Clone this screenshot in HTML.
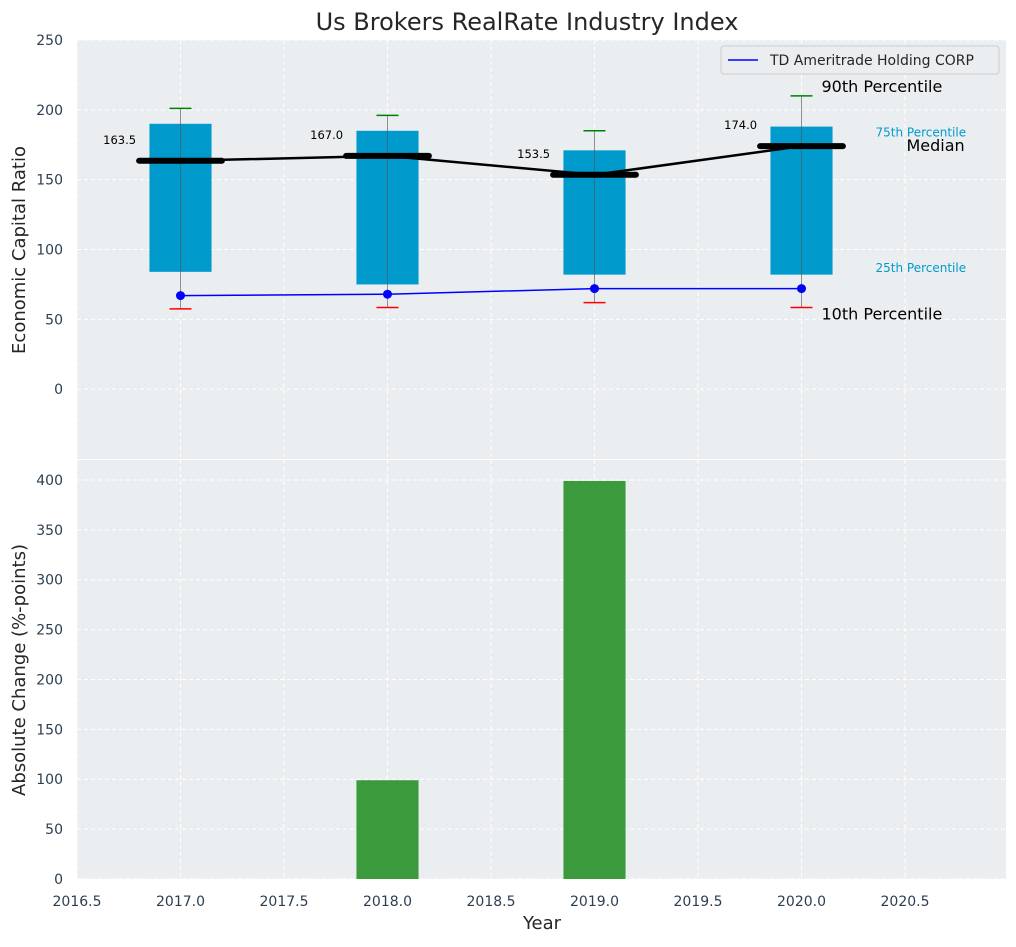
<!DOCTYPE html>
<html><head><meta charset="utf-8"><style>
body{margin:0;background:#fff;font-family:"Liberation Sans","DejaVu Sans",sans-serif;}
svg text{font-family:"DejaVu Sans","Liberation Sans",sans-serif;}
</style></head><body>
<svg id="chart" width="1016" height="942" xmlns="http://www.w3.org/2000/svg">
<text x="527" y="30" font-size="24" text-anchor="middle" fill="#262626">Us Brokers RealRate Industry Index</text>
<g id="topg"></g><g id="botg"></g>
</svg>
<script>
const years=[2017,2018,2019,2020];
const p10=[57.5,58.5,62,58.5];
const p25=[84,75,82,82];
const medians=[163.5,167,153.5,174];
const p75=[190,185,171,188];
const p90=[201,196,185,210];
const company=[67,68,72,72];
const changeYears=[2018,2019];
const changes=[99,399];
const xTicks=[2016.5,2017.0,2017.5,2018.0,2018.5,2019.0,2019.5,2020.0,2020.5];
const yTopTicks=[0,50,100,150,200,250];
const yBotTicks=[0,50,100,150,200,250,300,350,400];

const NS="http://www.w3.org/2000/svg";
const L=77,R=1006;
const x=v=>L+(v-2016.5)*207;
const T0=40,T1=459,yT=v=>T1-(v+50)*(T1-T0)/300;
const B0=460,B1=879,yB=v=>B1-v*(B1-B0)/420;
function mk(p,tag,a,txt){const e=document.createElementNS(NS,tag);for(const k in a)e.setAttribute(k,a[k]);if(txt!==undefined)e.textContent=txt;p.appendChild(e);return e;}
const topG=document.getElementById('topg'),botG=document.getElementById('botg');
let e;
e=mk(topG,'rect',{x:L,y:T0,width:R-L,height:T1-T0,fill:'#eaeef0'});


e=mk(botG,'rect',{x:L,y:B0,width:R-L,height:B1-B0,fill:'#eaeef0'});


xTicks.forEach(t=>{
 mk(topG,'line',{x1:x(t),x2:x(t),y1:T0,y2:T1,stroke:'#fff','stroke-dasharray':'4,3'});
 mk(botG,'line',{x1:x(t),x2:x(t),y1:B0,y2:B1,stroke:'#fff','stroke-dasharray':'4,3'});
 e=mk(botG,'text',{x:x(t),y:906,'font-size':14,'text-anchor':'middle',fill:'#2d3e50'},t.toFixed(1));
 
 
});
yTopTicks.forEach(t=>{
 mk(topG,'line',{x1:L,x2:R,y1:yT(t),y2:yT(t),stroke:'#fff','stroke-dasharray':'4,3'});
 e=mk(topG,'text',{x:63,y:yT(t)+5,'font-size':14,'text-anchor':'end',fill:'#2d3e50'},t);
 
 
});
yBotTicks.forEach(t=>{
 mk(botG,'line',{x1:L,x2:R,y1:yB(t),y2:yB(t),stroke:'#fff','stroke-dasharray':'4,3'});
 e=mk(botG,'text',{x:63,y:yB(t)+5,'font-size':14,'text-anchor':'end',fill:'#2d3e50'},t);
 
 
});
const bw=0.3;
years.forEach((yr,i)=>{
 e=mk(topG,'rect',{x:x(yr-bw/2),y:yT(p75[i]),width:x(yr+bw/2)-x(yr-bw/2),height:yT(p25[i])-yT(p75[i]),fill:'#009acd'});
 
 
 mk(topG,'line',{x1:x(yr),x2:x(yr),y1:yT(p90[i]),y2:yT(p10[i]),stroke:'#555','stroke-width':0.8,opacity:0.8});
 e=mk(topG,'line',{x1:x(yr)-11,x2:x(yr)+11,y1:yT(p90[i]),y2:yT(p90[i]),stroke:'green','stroke-width':1.5});
 
 
 e=mk(topG,'line',{x1:x(yr)-11,x2:x(yr)+11,y1:yT(p10[i]),y2:yT(p10[i]),stroke:'red','stroke-width':1.5});
 
 
 e=mk(topG,'line',{x1:x(yr-0.2),x2:x(yr+0.2),y1:yT(medians[i]),y2:yT(medians[i]),stroke:'#000','stroke-width':6,'stroke-linecap':'round'});
 
 
 e=mk(topG,'text',{x:x(yr-0.2)-3,y:yT(medians[i])-17,'font-size':11.5,'text-anchor':'end',fill:'#000'},medians[i].toFixed(1));
 
 
});
e=mk(topG,'polyline',{points:years.map((yr,i)=>x(yr)+','+yT(medians[i])).join(' '),fill:'none',stroke:'#000','stroke-width':2.5});


e=mk(topG,'polyline',{points:years.map((yr,i)=>x(yr)+','+yT(company[i])).join(' '),fill:'none',stroke:'blue','stroke-width':1.5});


years.forEach((yr,i)=>{
 e=mk(topG,'circle',{cx:x(yr),cy:yT(company[i]),r:4.5,fill:'blue'});
 
 
});
const last=years.length-1, xa=x(years[last]);
[['90th Percentile',xa+20,yT(p90[last])-4,16,'#000'],['Median',xa+105,yT(medians[last])+5,16,'#000'],['75th Percentile',xa+74,yT(p75[last])+10,12,'#009acd'],['25th Percentile',xa+74,yT(p25[last])-2.5,12,'#009acd'],['10th Percentile',xa+20,yT(p10[last])+12,16,'#000']].forEach(a=>{
 e=mk(topG,'text',{x:a[1],y:a[2],'font-size':a[3],fill:a[4]},a[0]);
 
 
});
changeYears.forEach((yr,i)=>{
 e=mk(botG,'rect',{x:x(yr-0.15),y:yB(changes[i]),width:x(yr+0.15)-x(yr-0.15),height:yB(0)-yB(changes[i]),fill:'#3a9a3c'});
 
 
});
const lg=mk(topG,'g',{});


mk(lg,'rect',{x:721,y:46,width:278,height:28,rx:3,fill:'#eaeef0',stroke:'#ccc'});
mk(lg,'line',{x1:728,x2:758,y1:60,y2:60,stroke:'blue','stroke-width':1.5});
mk(lg,'text',{x:770,y:65,'font-size':14,fill:'#262626'},'TD Ameritrade Holding CORP');
e=mk(topG,'text',{x:0,y:0,'font-size':18,'text-anchor':'middle',fill:'#262626',transform:'translate(25,250) rotate(-90)'},'Economic Capital Ratio');


e=mk(botG,'text',{x:0,y:0,'font-size':18,'text-anchor':'middle',fill:'#262626',transform:'translate(25,670) rotate(-90)'},'Absolute Change (%-points)');


e=mk(botG,'text',{x:542,y:929,'font-size':18,'text-anchor':'middle',fill:'#262626'},'Year');


</script>
</body></html>
